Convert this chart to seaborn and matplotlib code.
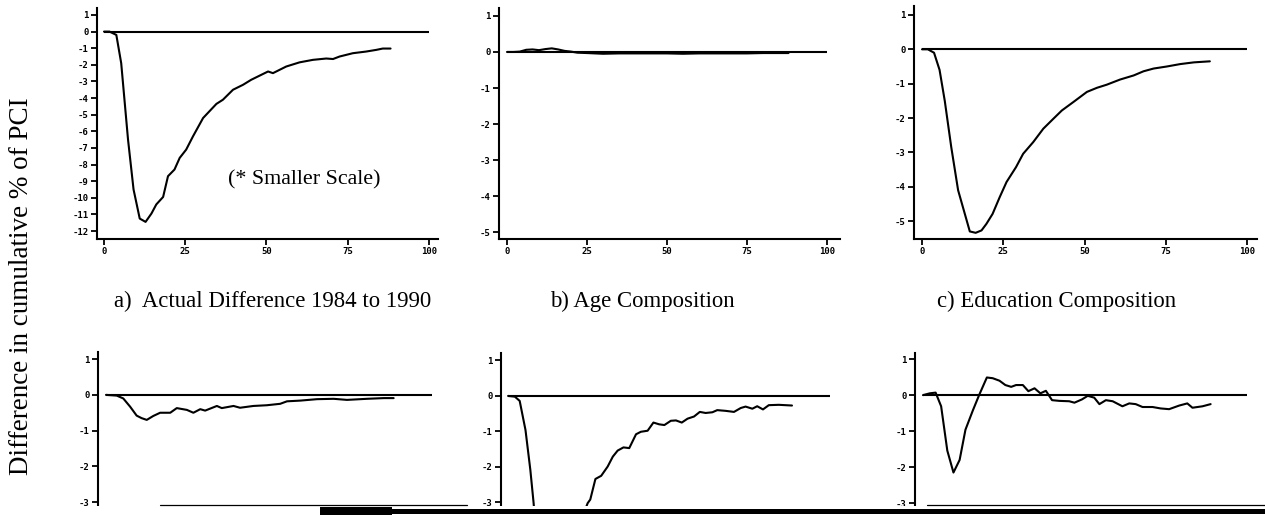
import numpy as np
import pandas as pd
import matplotlib
matplotlib.use("Agg")
import matplotlib.pyplot as plt
from matplotlib.lines import Line2D
from matplotlib.patches import Rectangle
import seaborn as sns

# ---------------- data ----------------
a_x = [0, 1.7, 3.8, 5.3, 7.4, 9.1, 11.0, 12.8, 14.6, 16.1, 18.2, 19.7, 21.7, 23.3, 25.3, 27.4,
       30.5, 34.6, 36.6, 39.7, 42.8, 45.3, 47.9, 50.5, 52.0, 56.1, 60.2, 64.3, 68.4, 70.5,
       72.5, 76.6, 80.7, 83.8, 85.8, 88.2]
a_y = [0, 0, -0.2, -1.9, -6.5, -9.5, -11.25, -11.45, -10.95, -10.4, -9.95, -8.7, -8.3, -7.6,
       -7.1, -6.3, -5.2, -4.35, -4.1, -3.5, -3.2, -2.9, -2.65, -2.4, -2.5, -2.1, -1.85, -1.7,
       -1.62, -1.65, -1.5, -1.3, -1.2, -1.1, -1.02, -1.02]

b_x = [0, 2, 4, 6, 8, 10, 12, 14, 16, 18, 20, 22, 25, 30, 35, 40, 45, 50, 55, 60, 65, 70,
       75, 80, 85, 88]
b_y = [0, 0, 0.01, 0.06, 0.07, 0.05, 0.08, 0.1, 0.07, 0.03, 0.01, -0.02, -0.03, -0.05,
       -0.04, -0.04, -0.04, -0.04, -0.05, -0.04, -0.04, -0.04, -0.04, -0.03, -0.03, -0.03]

c_x = [0, 1.8, 3.7, 5.4, 7.0, 9.0, 11.1, 13.2, 14.7, 16.5, 18.3, 19.8, 21.7, 23.9, 26.0,
       28.9, 31.1, 34.2, 37.3, 40.4, 43.0, 46.6, 50.7, 53.8, 56.8, 60.9, 65.1, 68.1, 71.2,
       75.3, 79.4, 83.6, 88.5]
c_y = [0, 0, -0.1, -0.6, -1.5, -2.85, -4.1, -4.8, -5.3, -5.34, -5.27, -5.08, -4.79, -4.3,
       -3.86, -3.43, -3.04, -2.7, -2.31, -2.02, -1.78, -1.53, -1.24, -1.12, -1.03, -0.88,
       -0.76, -0.64, -0.56, -0.5, -0.43, -0.38, -0.35]

d_x = [0, 3.3, 5.3, 7.4, 9.4, 10.9, 12.5, 14.5, 16.6, 19.7, 21.7, 24.8, 26.8, 28.9, 30.4,
       34.0, 35.5, 39.1, 41.1, 45.2, 49.3, 53.4, 55.5, 59.6, 64.7, 69.8, 73.9, 80.0, 85.2, 88.2]
d_y = [0, -0.02, -0.1, -0.33, -0.58, -0.65, -0.7, -0.59, -0.5, -0.5, -0.37, -0.42, -0.5,
       -0.4, -0.44, -0.31, -0.37, -0.31, -0.36, -0.31, -0.29, -0.25, -0.18, -0.16, -0.12,
       -0.11, -0.14, -0.11, -0.09, -0.09]

e_x = [0, 2.1, 3.6, 5.4, 6.9, 7.9, 9, 10, 11, 12, 13, 14, 16, 18, 20, 22, 23.5, 24.7, 25.5,
       27.1, 28.9, 30.9, 32.5, 34.0, 35.8, 37.6, 39.7, 41.2, 43.3, 45.1, 46.9, 48.5, 50.5,
       52.1, 53.9, 55.7, 57.7, 59.5, 61.3, 63.4, 64.9, 67.5, 70.1, 72.2, 73.7, 75.8, 77.3,
       79.1, 80.9, 84.0, 88.1]
e_y = [0, -0.02, -0.14, -0.96, -2.08, -3.0, -4.2, -5.2, -5.8, -6.0, -6.1, -5.9, -5.5, -5.0,
       -4.4, -3.8, -3.3, -3.02, -2.92, -2.34, -2.25, -1.99, -1.71, -1.54, -1.45, -1.47,
       -1.08, -1.01, -0.98, -0.75, -0.8, -0.82, -0.7, -0.69, -0.75, -0.64, -0.58, -0.45,
       -0.48, -0.46, -0.4, -0.42, -0.45, -0.34, -0.3, -0.36, -0.29, -0.38, -0.26, -0.25, -0.27]

f_x = [0, 2.1, 3.9, 5.6, 7.5, 9.4, 11.3, 13.1, 15.4, 17.4, 19.7, 21.5, 23.6, 25.4, 27.2,
       28.7, 30.8, 32.5, 34.4, 36.2, 37.9, 39.8, 42.1, 45.1, 46.7, 49.0, 50.8, 52.8, 54.4,
       56.4, 58.5, 61.5, 63.6, 65.6, 67.7, 70.8, 73.3, 75.9, 79.0, 81.5, 83.1, 86.2, 88.7]
f_y = [0, 0.05, 0.07, -0.31, -1.54, -2.15, -1.8, -0.96, -0.42, 0.02, 0.49, 0.47, 0.4, 0.28,
       0.23, 0.28, 0.28, 0.11, 0.19, 0.05, 0.12, -0.14, -0.16, -0.17, -0.21, -0.12, -0.02,
       -0.07, -0.25, -0.14, -0.17, -0.31, -0.23, -0.25, -0.33, -0.33, -0.37, -0.39, -0.29,
       -0.23, -0.35, -0.31, -0.25]

captions_top = ["a)  Actual Difference 1984 to 1990", "b) Age Composition",
                "c) Education Composition"]
note_text = "(* Smaller Scale)"
y_label = "Difference in cumulative % of PCI"
x_ticks = [0, 25, 50, 75, 100]
yticks_a = list(range(-12, 2))
yticks_top = list(range(-5, 2))
yticks_bottom = list(range(-3, 2))

# ---------------- style ----------------
sns.set_style("ticks")
plt.rcParams["font.family"] = ["DejaVu Sans Mono", "DejaVu Sans"]
plt.rcParams["axes.unicode_minus"] = False
plt.rcParams["axes.linewidth"] = 1.5
plt.rcParams["axes.edgecolor"] = "black"
plt.rcParams["text.color"] = "black"
plt.rcParams["xtick.major.width"] = 1.3
plt.rcParams["ytick.major.width"] = 1.3

W, H = 1265, 518
fig = plt.figure(figsize=(W / 100, H / 100), dpi=100)


def px_axes(x0, x1, y0, y1):
    return fig.add_axes([x0 / W, 1 - y1 / H, (x1 - x0) / W, (y1 - y0) / H])


panels = [
    # (x, y, axes pixel box, xlim, ylim, yticks, show x tick labels)
    (a_x, a_y, (97, 438, 8, 239), (-2.15, 102.8), (-12.48, 1.42), yticks_a, True),
    (b_x, b_y, (499, 840, 8, 239), (-2.5, 104.1), (-5.19, 1.22), yticks_top, True),
    (c_x, c_y, (914, 1257, 6, 239), (-2.46, 103.0), (-5.52, 1.26), yticks_top, True),
    (d_x, d_y, (98, 438, 352, 600), (-2.45, 101.8), (-5.74, 1.2), yticks_bottom, False),
    (e_x, e_y, (501, 840, 353, 600), (-2.2, 103.0), (-5.75, 1.21), yticks_bottom, False),
    (f_x, f_y, (915, 1257, 353, 600), (-2.46, 103.0), (-5.69, 1.17), yticks_bottom, False),
]

for xs, ys, box, xl, yl, yt, showx in panels:
    ax = px_axes(*box)
    df = pd.DataFrame({"x": xs, "y": ys})
    ax.hlines(0, 0, 100, color="black", lw=1.5, zorder=2)
    sns.lineplot(data=df, x="x", y="y", ax=ax, color="black", lw=1.5,
                 sort=False, estimator=None, zorder=3)
    ax.set_xlim(*xl)
    ax.set_ylim(*yl)
    ax.set_yticks(yt)
    ax.set_xlabel("")
    ax.set_ylabel("")
    sns.despine(ax=ax)
    ax.tick_params(axis="both", length=4.5, pad=1.5, labelsize=6.5, colors="black")
    if showx:
        ax.set_xticks(x_ticks)
    else:
        ax.set_xticks([])
        ax.spines["bottom"].set_visible(False)
    for lab in ax.get_xticklabels() + ax.get_yticklabels():
        lab.set_fontweight("bold")
    ax.patch.set_alpha(0)

# captions
serif = ["Liberation Serif", "DejaVu Serif"]
cap_y = 1 - 301 / H
fig.text(273 / W, cap_y, captions_top[0], family=serif, fontsize=16.4,
         ha="center", va="center", color="black")
fig.text(642 / W, cap_y, captions_top[1], family=serif, fontsize=16.4,
         ha="center", va="center", color="black")
fig.text(1057 / W, cap_y, captions_top[2], family=serif, fontsize=16.4,
         ha="center", va="center", color="black")
fig.text(304 / W, 1 - 180 / H, note_text, family=serif, fontsize=15.8,
         ha="center", va="center", color="black")
fig.text(22 / W, 1 - 286 / H, y_label, family=serif, fontsize=19.5,
         rotation=90, ha="center", va="center", color="black")

# scan edge: white mask and dark strips at the bottom of the page
fig.add_artist(Rectangle((0, 0), 1, 12 / H, transform=fig.transFigure,
                         facecolor="white", edgecolor="none", zorder=10))
fig.add_artist(Line2D([160 / W, 467 / W], [1 - 505 / H] * 2, transform=fig.transFigure,
                      color="black", lw=0.9, zorder=11))
fig.add_artist(Line2D([927 / W, 1.0], [1 - 504.5 / H] * 2, transform=fig.transFigure,
                      color="black", lw=0.9, zorder=11))
fig.add_artist(Rectangle((320 / W, 1 - 514 / H), (W - 320) / W, 5 / H,
                         transform=fig.transFigure, facecolor="black",
                         edgecolor="none", zorder=11))
fig.add_artist(Rectangle((320 / W, 1 - 515 / H), 72 / W, 8 / H,
                         transform=fig.transFigure, facecolor="black",
                         edgecolor="none", zorder=11))

fig.savefig("out.png", dpi=100)
